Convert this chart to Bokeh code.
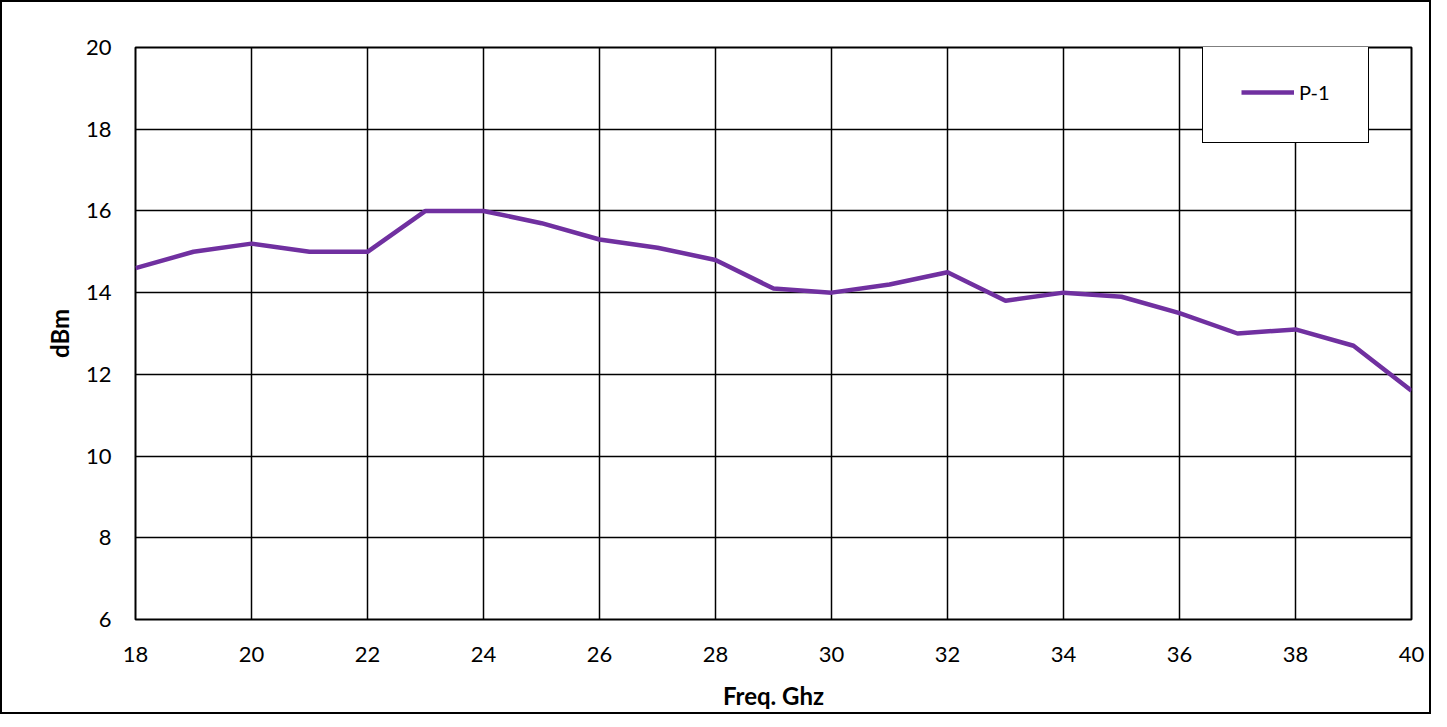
from bokeh.plotting import figure
from bokeh.embed import file_html
from bokeh.resources import INLINE
from bokeh.models import Range1d, FixedTicker

freq_ghz = [18, 19, 20, 21, 22, 23, 24, 25, 26, 27, 28, 29, 30, 31, 32, 33, 34, 35, 36, 37, 38, 39, 40]
p1_dbm = [14.6, 15.0, 15.2, 15.0, 15.0, 16.0, 16.0, 15.7, 15.3, 15.1, 14.8, 14.1, 14.0, 14.2, 14.5,
          13.8, 14.0, 13.9, 13.5, 13.0, 13.1, 12.7, 11.6]
x_ticks = [18, 20, 22, 24, 26, 28, 30, 32, 34, 36, 38, 40]
y_ticks = [6, 8, 10, 12, 14, 16, 18, 20]
series_name = "P-1"
x_title = "Freq. Ghz"
y_title = "dBm"

FONT = "Lato"

p = figure(width=1427, height=707, output_backend="svg", toolbar_location=None,
           x_range=Range1d(18, 40), y_range=Range1d(6, 20),
           min_border_left=133, min_border_right=18, min_border_top=45, min_border_bottom=90)
p.frame_width = 1276
p.frame_height = 572

p.line(freq_ghz, p1_dbm, line_color="#7030A0", line_width=4.5, legend_label=series_name)

p.xaxis.ticker = FixedTicker(ticks=x_ticks)
p.yaxis.ticker = FixedTicker(ticks=y_ticks)

for ax in (p.xaxis[0], p.yaxis[0]):
    ax.axis_line_color = None
    ax.major_tick_line_color = None
    ax.minor_tick_line_color = None
    ax.major_tick_out = 0
    ax.major_tick_in = 0
    ax.major_label_text_font = FONT
    ax.major_label_text_font_size = "22px"
    ax.major_label_text_color = "black"
    ax.axis_label_text_font = FONT
    ax.axis_label_text_font_size = "24px"
    ax.axis_label_text_font_style = "bold"
    ax.axis_label_text_color = "black"

p.xaxis.axis_label = x_title
p.yaxis.axis_label = y_title
p.xaxis.major_label_standoff = 27
p.xaxis.axis_label_standoff = 16
p.yaxis.major_label_standoff = 24
p.yaxis.axis_label_standoff = 9

p.xgrid.grid_line_color = "black"
p.ygrid.grid_line_color = "black"
p.xgrid.grid_line_width = 1.5
p.ygrid.grid_line_width = 1.5
p.outline_line_color = "black"
p.outline_line_width = 2

leg = p.legend[0]
leg.location = (1067, 476)
leg.margin = 0
leg.padding = 38
leg.spacing = 0
leg.glyph_width = 53
leg.glyph_height = 20
leg.label_height = 20
leg.label_width = 26
leg.label_standoff = 5
leg.label_text_font = FONT
leg.label_text_font_size = "20px"
leg.label_text_color = "black"
leg.border_line_color = "black"
leg.border_line_alpha = 1.0
leg.border_line_width = 1.5
leg.background_fill_color = "white"
leg.background_fill_alpha = 1.0

# outer chart-area border
p.styles = {"border": "2px solid black"}

open("out.html", "w").write(file_html(p, INLINE))
